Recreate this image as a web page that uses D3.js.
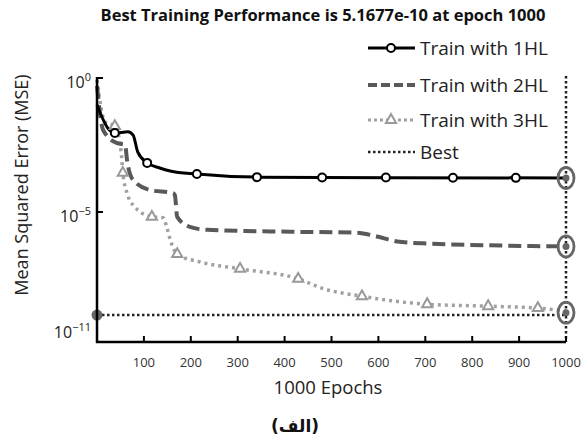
<!DOCTYPE html>
<html>
<head>
<meta charset="utf-8">
<script src="https://cdn.jsdelivr.net/npm/d3@7"></script>
<style>
  body { margin: 0; background: #fff; }
  text { font-family: "Open Sans", sans-serif; }
</style>
</head>
<body>
<div class="chart" style="width:581px;height:439px;"></div>
<script>
// data (epoch, MSE)
const epochs1 = [0, 6, 23, 38, 66, 77, 87, 107, 134, 156, 213, 341, 480, 1000];
const mse1 = [1e-1, 5.4e-2, 1.35e-2, 8.9e-3, 9.8e-3, 7.4e-3, 1.7e-3, 6.8e-4, 4.4e-4, 3.4e-4, 2.6e-4, 2.0e-4, 1.95e-4, 1.86e-4];
const markers1 = [38, 107, 213, 341, 480, 616, 759, 893];

const epochs2 = [0, 13, 43, 60, 64, 77, 113, 162, 166, 171, 198, 235, 412, 554, 597, 640, 695, 1000];
const mse2 = [0.5, 1.15e-2, 3.7e-3, 3.2e-3, 8.7e-4, 1.55e-4, 6.6e-5, 5.1e-5, 4.3e-5, 5.6e-6, 1.7e-6, 1.2e-6, 9.5e-7, 8.5e-7, 5.4e-7, 3.0e-7, 2.4e-7, 1.66e-7];

const epochs3 = [0, 17, 38, 49, 53, 55, 64, 77, 117, 141, 149, 156, 171, 220, 305, 429, 482, 565, 704, 834, 940, 1000];
const mse3 = [0.85, 2.3e-2, 1.6e-2, 3.7e-3, 8.7e-4, 2.9e-4, 5.1e-5, 1.8e-5, 5.6e-6, 5.0e-6, 1.55e-6, 3.8e-7, 6.6e-8, 2.6e-8, 1.15e-8, 3.5e-9, 1.1e-9, 4.4e-10, 1.7e-10, 1.35e-10, 1.07e-10, 7.4e-11];
const markers3 = [38, 55, 117, 171, 305, 429, 565, 704, 834, 940];

const bestValue = 4.7e-11;
const bestEpoch = 1000;
const bestEnds = [1.86e-4, 1.66e-7, 6.2e-11];

const xTicks = [100, 200, 300, 400, 500, 600, 700, 800, 900, 1000];
const yTicks = [[1, '0'], [1e-5, '\u22125'], [1e-11, '\u221211']];

const legendNames = ['Train with 1HL', 'Train with 2HL', 'Train with 3HL', 'Best'];

const width = 581, height = 439;
const svg = d3.select('.chart').append('svg')
  .attr('width', width)
  .attr('height', height);

// scales (y is a log scale, bottom part squeezed like the original)
const x = d3.scaleLinear().domain([0, 1000]).range([97, 566]);
const y = d3.scaleLog().domain([1, 1e-5, 1.9e-12]).range([78, 212, 342]);

const line = d3.line()
  .x(d => x(d[0]))
  .y(d => y(d[1]))
  .curve(d3.curveMonotoneX);

function pts(ep, ms) { return ep.map((e, i) => [e, ms[i]]); }
const s1 = pts(epochs1, mse1), s2 = pts(epochs2, mse2), s3 = pts(epochs3, mse3);

// value along a series at a given epoch (log interpolation) for markers
function at(ep, ms, e) {
  for (let i = 1; i < ep.length; i++) {
    if (e <= ep[i]) {
      const t = (e - ep[i - 1]) / (ep[i] - ep[i - 1]);
      return Math.pow(10, Math.log10(ms[i - 1]) + t * (Math.log10(ms[i]) - Math.log10(ms[i - 1])));
    }
  }
  return ms[ms.length - 1];
}

// best lines
svg.append('line')
  .attr('x1', x(0)).attr('x2', x(bestEpoch))
  .attr('y1', Math.round(y(bestValue))).attr('y2', Math.round(y(bestValue)))
  .style('stroke', '#222').style('stroke-width', 2.5).style('stroke-dasharray', '2.5,2.5');
svg.append('line')
  .attr('x1', x(bestEpoch)).attr('x2', x(bestEpoch))
  .attr('y1', 76).attr('y2', 342)
  .style('stroke', '#222').style('stroke-width', 2.5).style('stroke-dasharray', '2.5,2.5');

// series lines
svg.append('path').datum(s3).attr('d', line)
  .style('fill', 'none').style('stroke', '#a0a0a0').style('stroke-width', 3.5)
  .style('stroke-dasharray', '3,4');
svg.append('path').datum(s2).attr('d', line)
  .style('fill', 'none').style('stroke', '#595959').style('stroke-width', 4)
  .style('stroke-dasharray', '13,6');
svg.append('path').datum(s1).attr('d', line)
  .style('fill', 'none').style('stroke', '#000').style('stroke-width', 3);

// markers
const tri = d3.symbol().type(d3.symbolTriangle).size(45);
svg.selectAll('.tri').data(markers3).enter().append('path')
  .attr('transform', d => `translate(${x(d)},${y(at(epochs3, mse3, d))})`)
  .attr('d', tri)
  .style('fill', '#fff').style('stroke', '#999').style('stroke-width', 2);
svg.selectAll('.circ').data(markers1).enter().append('circle')
  .attr('cx', d => x(d)).attr('cy', d => y(at(epochs1, mse1, d)))
  .attr('r', 4)
  .style('fill', '#fff').style('stroke', '#000').style('stroke-width', 2);

// best rings at the end
bestEnds.forEach(v => {
  svg.append('ellipse')
    .attr('cx', x(bestEpoch)).attr('cy', y(v))
    .attr('rx', 8).attr('ry', 10.5)
    .style('fill', 'none').style('stroke', '#666').style('stroke-width', 2.8);
  svg.append('circle')
    .attr('cx', x(bestEpoch)).attr('cy', y(v)).attr('r', 3.5)
    .style('fill', '#666');
});
svg.append('circle')
  .attr('cx', x(0)).attr('cy', y(bestValue)).attr('r', 5.5)
  .style('fill', '#666');

// axes
svg.append('line')
  .attr('x1', x(0)).attr('x2', x(0)).attr('y1', 77).attr('y2', 343)
  .style('stroke', '#000').style('stroke-width', 2.5);
svg.append('line')
  .attr('x1', x(0) - 1).attr('x2', x(1000)).attr('y1', 342).attr('y2', 342)
  .style('stroke', '#000').style('stroke-width', 2.5);

xTicks.forEach(t => {
  svg.append('line')
    .attr('x1', x(t)).attr('x2', x(t)).attr('y1', 342).attr('y2', 336)
    .style('stroke', '#000').style('stroke-width', 2);
  svg.append('text')
    .attr('x', x(t)).attr('y', 367)
    .attr('text-anchor', 'middle')
    .style('font-size', '13px').style('fill', '#333')
    .text(t);
});

yTicks.forEach(t => {
  if (t[0] > 1e-11) {
    svg.append('line')
      .attr('x1', x(0)).attr('x2', x(0) + 6).attr('y1', y(t[0])).attr('y2', y(t[0]))
      .style('stroke', '#000').style('stroke-width', 2);
  }
  const lab = svg.append('text')
    .attr('x', 91).attr('y', y(t[0]) + 10)
    .attr('text-anchor', 'end')
    .style('font-size', '16px').style('fill', '#222');
  lab.append('tspan').text('10');
  lab.append('tspan').attr('dy', -7).style('font-size', '11px').text(t[1]);
});

// titles
svg.append('text')
  .attr('x', 323).attr('y', 21)
  .attr('text-anchor', 'middle')
  .style('font-size', '16.5px').style('font-weight', 'bold').style('fill', '#111')
  .text('Best Training Performance is 5.1677e-10 at epoch 1000');
svg.append('text')
  .attr('x', 328).attr('y', 394)
  .attr('text-anchor', 'middle')
  .style('font-size', '18.5px').style('fill', '#222')
  .text('1000 Epochs');
svg.append('text')
  .attr('transform', 'translate(28,185) rotate(-90)')
  .attr('text-anchor', 'middle')
  .style('font-size', '18px').style('fill', '#222')
  .text('Mean Squared Error (MSE)');
svg.append('text')
  .attr('x', 295).attr('y', 432)
  .attr('text-anchor', 'middle')
  .attr('direction', 'rtl')
  .style('font-family', '"DejaVu Sans", sans-serif')
  .style('font-size', '17px').style('font-weight', 'bold').style('fill', '#111')
  .text('(الف)');

// legend
const legY = [48, 85, 120, 152];
const legStyle = [
  { c: '#000', w: 3, d: null },
  { c: '#595959', w: 4, d: '9,4' },
  { c: '#a0a0a0', w: 3, d: '3,3' },
  { c: '#222', w: 2.5, d: '2.5,2.5' }
];
legendNames.forEach((name, i) => {
  svg.append('line')
    .attr('x1', 368).attr('x2', 415).attr('y1', legY[i]).attr('y2', legY[i])
    .style('stroke', legStyle[i].c).style('stroke-width', legStyle[i].w)
    .style('stroke-dasharray', legStyle[i].d);
  svg.append('text')
    .attr('x', 420).attr('y', legY[i] + 7)
    .style('font-size', '19px').style('fill', '#222')
    .text(name);
});
svg.append('circle')
  .attr('cx', 391).attr('cy', legY[0]).attr('r', 4)
  .style('fill', '#fff').style('stroke', '#000').style('stroke-width', 2);
svg.append('path')
  .attr('transform', `translate(391,${legY[2]})`)
  .attr('d', tri)
  .style('fill', '#fff').style('stroke', '#999').style('stroke-width', 2);
</script>
</body>
</html>
